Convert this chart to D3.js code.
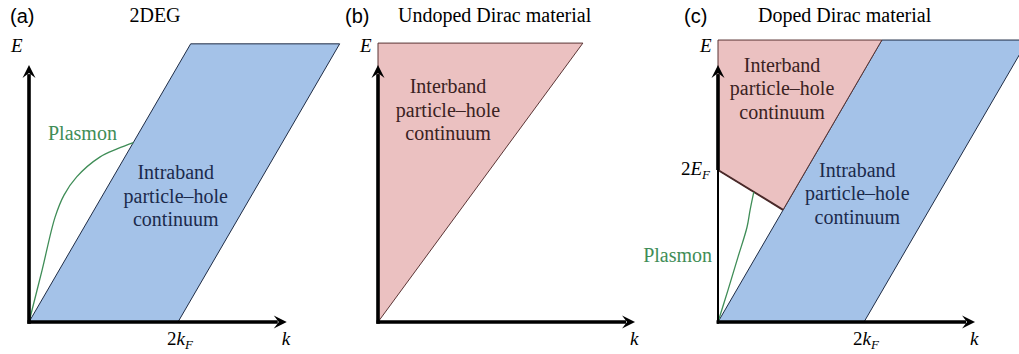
<!DOCTYPE html>
<html><head><meta charset="utf-8">
<script src="https://cdn.jsdelivr.net/npm/d3@7"></script>
<style>body{margin:0;background:#fff} svg{display:block}</style>
</head><body><svg id="chart" width="1019" height="354"></svg>
<script>
// ---- data (k in units of k_F, E in units of E_F) ----
const panelTags = ["(a)", "(b)", "(c)"];
const panelTitles = ["2DEG", "Undoped Dirac material", "Doped Dirac material"];
const axisKMax = [3.46, 3.45, 3.45];
const axisEMax = [3.38, 3.38, 3.38];
const intrabandA = [[0, 0], [2, 0], [4.17, 3.66], [2.17, 3.66]];
const interbandB = [[0, 0], [0, 3.67], [2.75, 3.67]];
const intrabandC = [[0, 0], [1.96, 0], [4.16, 3.71], [2.2, 3.71]];
const interbandC = [[0, 2], [0, 3.71], [2.2, 3.71], [0.873, 1.476]];
const plasmonA = [[0, 0], [0.175, 0.68], [0.35, 1.38], [0.47, 1.67], [0.64, 1.91], [0.95, 2.17], [1.19, 2.28], [1.40, 2.36]];
const plasmonC = [[0, 0], [0.134, 0.42], [0.27, 0.86], [0.39, 1.25], [0.43, 1.47], [0.48, 1.71]];
const twoEF = 2;
const twoKF = [2, null, 1.96];
const intrabandText = ["Intraband", "particle\u2013hole", "continuum"];
const interbandText = ["Interband", "particle\u2013hole", "continuum"];
const plasmonText = "Plasmon";

// ---- layout ----
const svg = d3.select("#chart");
const origins = [[29, 322], [378, 322], [718, 322]];
const pxPerK = 74.5, pxPerE = 76;
const SERIF = '"Liberation Serif"';
const SANS = '"Liberation Sans"';
const BLUE = "#a4c2e8", BLUE_EDGE = "#1f2c45";
const PINK = "#ebc1c1", PINK_EDGE = "#5a3535";
const GREEN = "#3f8d57";
const lineH = 23.5;

const scales = origins.map(([ox, oy]) => ({
  x: d3.scaleLinear().domain([0, 1]).range([ox, ox + pxPerK]),
  y: d3.scaleLinear().domain([0, 1]).range([oy, oy - pxPerE])
}));

function txt(g, x, y, size, fam) {
  return g.append("text").attr("x", x).attr("y", y)
    .style("font-family", fam || SERIF).style("font-size", size + "px");
}
function poly(g, s, pts, fill, stroke, sw) {
  g.append("path")
    .attr("d", d3.line().x(d => s.x(d[0])).y(d => s.y(d[1]))(pts) + "Z")
    .attr("fill", fill).attr("stroke", stroke).attr("stroke-width", sw)
    .attr("stroke-linejoin", "miter");
}
function curve(g, s, pts) {
  g.append("path")
    .attr("d", d3.line().x(d => s.x(d[0])).y(d => s.y(d[1])).curve(d3.curveCatmullRom.alpha(0.5))(pts))
    .attr("fill", "none").attr("stroke", GREEN).attr("stroke-width", 1.3);
}
function block(g, s, lines, k, e, color) {
  const t = txt(g, s.x(k), s.y(e), 20).attr("fill", color).attr("text-anchor", "middle");
  lines.forEach((l, i) => t.append("tspan").attr("x", s.x(k)).attr("y", s.y(e) + i * lineH).text(l));
}
function arrowHead(g, x, y, dir) {
  const L = 13, W = 6.5, N = 8;
  let p;
  if (dir === "up") p = [[x, y], [x + W, y + L], [x, y + N], [x - W, y + L]];
  else p = [[x, y], [x - L, y - W], [x - N, y], [x - L, y + W]];
  g.append("path").attr("d", d3.line()(p) + "Z").attr("fill", "#000");
}
function axes(g, s, i, yThickFrom) {
  const ox = s.x(0), oy = s.y(0);
  const xt = s.x(axisKMax[i]), yt = s.y(axisEMax[i]);
  g.append("line").attr("x1", ox - 1.5).attr("y1", oy).attr("x2", xt - 9).attr("y2", oy)
    .attr("stroke", "#000").attr("stroke-width", 3.6);
  if (yThickFrom == null) {
    g.append("line").attr("x1", ox).attr("y1", oy + 1.8).attr("x2", ox).attr("y2", yt + 9)
      .attr("stroke", "#000").attr("stroke-width", 3.6);
  } else {
    g.append("line").attr("x1", ox).attr("y1", oy + 1.8).attr("x2", ox).attr("y2", s.y(yThickFrom))
      .attr("stroke", "#000").attr("stroke-width", 2);
    g.append("line").attr("x1", ox).attr("y1", s.y(yThickFrom)).attr("x2", ox).attr("y2", yt + 9)
      .attr("stroke", "#000").attr("stroke-width", 3.6);
  }
  arrowHead(g, xt, oy, "right");
  arrowHead(g, ox, yt, "up");
  txt(g, ox - 18, oy - 270, 19).style("font-style", "italic").text("E");
  txt(g, xt - 5, oy + 23, 19).style("font-style", "italic").text("k");
}
function twoK(g, s, k) {
  const t = txt(g, s.x(k) + 2, 345, 19).attr("text-anchor", "middle");
  t.append("tspan").text("2");
  t.append("tspan").style("font-style", "italic").text("k");
  t.append("tspan").style("font-style", "italic").style("font-size", "13px").attr("dy", 4).text("F");
}

// ---- panel (a) ----
{
  const s = scales[0], g = svg.append("g");
  poly(g, s, intrabandA, BLUE, BLUE_EDGE, 1);
  curve(g, s, plasmonA);
  axes(g, s, 0, null);
  twoK(g, s, twoKF[0]);
  block(g, s, intrabandText, 1.97, 1.88, "#1b2a4c");
  txt(g, s.x(0.255), s.y(2.39), 20).attr("fill", GREEN).text(plasmonText);
}
// ---- panel (b) ----
{
  const s = scales[1], g = svg.append("g");
  poly(g, s, interbandB, PINK, PINK_EDGE, 1);
  axes(g, s, 1, null);
  block(g, s, interbandText, 0.94, 3.01, "#3a2222");
}
// ---- panel (c) ----
{
  const s = scales[2], g = svg.append("g");
  poly(g, s, intrabandC, BLUE, BLUE_EDGE, 1);
  poly(g, s, interbandC, PINK, PINK_EDGE, 1);
  g.append("line").attr("x1", s.x(interbandC[0][0])).attr("y1", s.y(interbandC[0][1]))
    .attr("x2", s.x(interbandC[3][0])).attr("y2", s.y(interbandC[3][1]))
    .attr("stroke", "#4a2a2a").attr("stroke-width", 2);
  curve(g, s, plasmonC);
  axes(g, s, 2, twoEF);
  twoK(g, s, twoKF[2]);
  block(g, s, interbandText, 0.86, 3.29, "#3a2222");
  block(g, s, intrabandText, 1.87, 1.91, "#1b2a4c");
  txt(g, s.x(-0.08), s.y(0.79), 20).attr("fill", GREEN).attr("text-anchor", "end").text(plasmonText);
  const t = txt(g, s.x(0) - 8, s.y(twoEF) + 5, 19).attr("text-anchor", "end");
  t.append("tspan").text("2");
  t.append("tspan").style("font-style", "italic").text("E");
  t.append("tspan").style("font-style", "italic").style("font-size", "13px").attr("dy", 4).text("F");
}

// ---- tags and titles ----
const tagX = [10, 345, 684], titleX = [155, 398, 758], titleAnchor = ["middle", "start", "start"];
panelTags.forEach((t, i) => {
  txt(svg, tagX[i], 23, 20, SANS).text(t);
  txt(svg, titleX[i], 22, 20).attr("text-anchor", titleAnchor[i]).text(panelTitles[i]);
});
</script>
</body></html>
